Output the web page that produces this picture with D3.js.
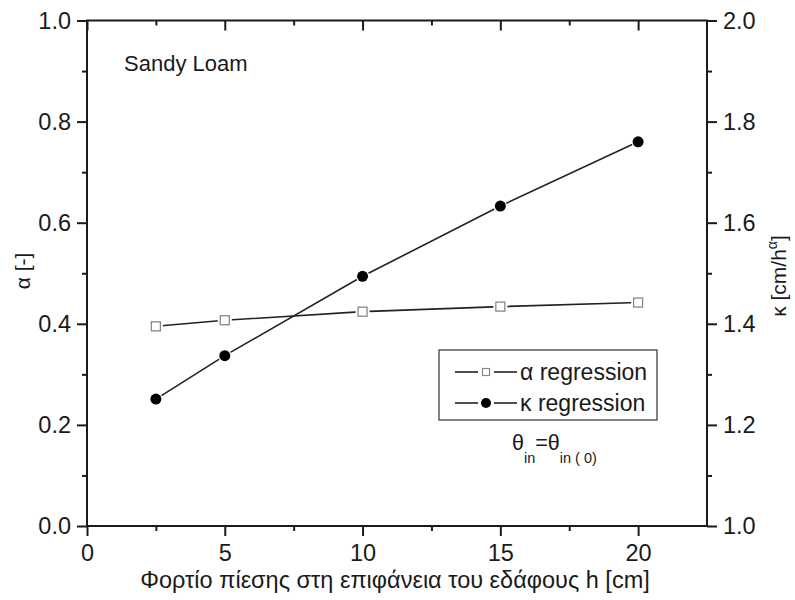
<!DOCTYPE html>
<html>
<head>
<meta charset="utf-8">
<script src="https://cdn.jsdelivr.net/npm/d3@7"></script>
<style>
  body { margin: 0; background: #fff; }
  svg text { font-family: "Liberation Sans", Arial, sans-serif; fill: #1a1a1a; }
</style>
</head>
<body>
<main></main>
<script>
// data
const hValues = [2.5, 5, 10, 15, 20]
const alphaValues = [0.395, 0.407, 0.424, 0.434, 0.442]
const kappaValues = [1.251, 1.337, 1.494, 1.633, 1.760]
const xTicks = [0, 5, 10, 15, 20]
const xMinor = [2.5, 7.5, 12.5, 17.5]
const leftTicks = [0, 0.2, 0.4, 0.6, 0.8, 1.0]
const leftMinor = [0.1, 0.3, 0.5, 0.7, 0.9]
const rightTicks = [1.0, 1.2, 1.4, 1.6, 1.8, 2.0]
const rightMinor = [1.1, 1.3, 1.5, 1.7, 1.9]

const W = 795
const H = 600
const m = { left: 87, right: 88, top: 20.5, bottom: 74 }

const svg = d3.select('main')
  .append('svg')
  .attr('width', W)
  .attr('height', H)

const x = d3.scaleLinear().domain([0, 22.5]).range([m.left, W - m.right])
const yL = d3.scaleLinear().domain([0, 1]).range([H - m.bottom, m.top])
const yR = d3.scaleLinear().domain([1, 2]).range([H - m.bottom, m.top])

const fmt = d3.format('.1f')
const axisColor = '#1a1a1a'
const tickFont = 23.5

function styleAxis (g) {
  g.selectAll('.domain').remove()
  g.selectAll('line').attr('stroke', axisColor).attr('stroke-width', 2)
  g.selectAll('text').style('font-size', tickFont + 'px').attr('fill', axisColor)
}

// bottom
svg.append('g')
  .attr('transform', 'translate(0,' + (H - m.bottom) + ')')
  .call(d3.axisBottom(x).tickValues(xTicks).tickSize(10).tickPadding(8))
  .call(styleAxis)
svg.append('g')
  .attr('transform', 'translate(0,' + (H - m.bottom) + ')')
  .call(d3.axisBottom(x).tickValues(xMinor).tickSize(5).tickFormat(''))
  .call(styleAxis)
// top, ticks pointing inward
svg.append('g')
  .attr('transform', 'translate(0,' + m.top + ')')
  .call(d3.axisBottom(x).tickValues(xTicks).tickSize(10).tickFormat(''))
  .call(styleAxis)
svg.append('g')
  .attr('transform', 'translate(0,' + m.top + ')')
  .call(d3.axisBottom(x).tickValues(xMinor).tickSize(5).tickFormat(''))
  .call(styleAxis)
// left
svg.append('g')
  .attr('transform', 'translate(' + m.left + ',0)')
  .call(d3.axisLeft(yL).tickValues(leftTicks).tickSize(10).tickPadding(6).tickFormat(fmt))
  .call(styleAxis)
svg.append('g')
  .attr('transform', 'translate(' + m.left + ',0)')
  .call(d3.axisLeft(yL).tickValues(leftMinor).tickSize(5).tickFormat(''))
  .call(styleAxis)
// right
svg.append('g')
  .attr('transform', 'translate(' + (W - m.right) + ',0)')
  .call(d3.axisRight(yR).tickValues(rightTicks).tickSize(10).tickPadding(6).tickFormat(fmt))
  .call(styleAxis)
svg.append('g')
  .attr('transform', 'translate(' + (W - m.right) + ',0)')
  .call(d3.axisRight(yR).tickValues(rightMinor).tickSize(5).tickFormat(''))
  .call(styleAxis)

// frame
svg.append('rect')
  .attr('x', m.left)
  .attr('y', m.top)
  .attr('width', W - m.left - m.right)
  .attr('height', H - m.top - m.bottom)
  .attr('fill', 'none')
  .attr('stroke', axisColor)
  .attr('stroke-width', 2)

// series
const alphaPts = hValues.map((h, i) => [x(h), yL(alphaValues[i])])
const kappaPts = hValues.map((h, i) => [x(h), yR(kappaValues[i])])

svg.append('path')
  .attr('d', d3.line()(alphaPts))
  .attr('fill', 'none')
  .attr('stroke', '#222')
  .attr('stroke-width', 1.6)
svg.append('path')
  .attr('d', d3.line()(kappaPts))
  .attr('fill', 'none')
  .attr('stroke', '#222')
  .attr('stroke-width', 1.6)

// square markers with small white gap
svg.selectAll('.sqgap')
  .data(alphaPts)
  .enter()
  .append('rect')
  .attr('x', d => d[0] - 7)
  .attr('y', d => d[1] - 7)
  .attr('width', 14)
  .attr('height', 14)
  .attr('fill', '#fff')
svg.selectAll('.sq')
  .data(alphaPts)
  .enter()
  .append('rect')
  .attr('x', d => d[0] - 4.5)
  .attr('y', d => d[1] - 4.5)
  .attr('width', 9)
  .attr('height', 9)
  .attr('fill', '#fff')
  .attr('stroke', '#888')
  .attr('stroke-width', 1.3)

svg.selectAll('.dot')
  .data(kappaPts)
  .enter()
  .append('circle')
  .attr('cx', d => d[0])
  .attr('cy', d => d[1])
  .attr('r', 5.5)
  .attr('fill', '#000')
  .attr('stroke', '#fff')
  .attr('stroke-width', 2.5)
  .attr('paint-order', 'stroke')

// Sandy Loam label
svg.append('text')
  .attr('x', 124)
  .attr('y', 71)
  .style('font-size', '22px')
  .text('Sandy Loam')

// legend
const lg = svg.append('g')
lg.append('rect')
  .attr('x', 439)
  .attr('y', 350)
  .attr('width', 218)
  .attr('height', 70)
  .attr('fill', '#fff')
  .attr('stroke', '#333')
  .attr('stroke-width', 1.2)
const rows = [
  { y: 372, label: 'α regression', sym: 'sq' },
  { y: 403, label: 'κ regression', sym: 'dot' }
]
rows.forEach(r => {
  lg.append('line').attr('x1', 455).attr('x2', 478).attr('y1', r.y).attr('y2', r.y)
    .attr('stroke', '#222').attr('stroke-width', 1.6)
  lg.append('line').attr('x1', 494).attr('x2', 517).attr('y1', r.y).attr('y2', r.y)
    .attr('stroke', '#222').attr('stroke-width', 1.6)
  if (r.sym === 'sq') {
    lg.append('rect').attr('x', 486 - 3.5).attr('y', r.y - 3.5).attr('width', 7).attr('height', 7)
      .attr('fill', '#fff').attr('stroke', '#888').attr('stroke-width', 1.2)
  } else {
    lg.append('circle').attr('cx', 486).attr('cy', r.y).attr('r', 5).attr('fill', '#000')
  }
  lg.append('text')
    .attr('x', 520)
    .attr('y', r.y)
    .attr('dy', '0.35em')
    .style('font-size', '23px')
    .text(r.label)
})

// theta annotation
const th = svg.append('text')
  .attr('x', 512)
  .attr('y', 450)
  .style('font-size', '21.5px')
th.append('tspan').text('θ')
th.append('tspan').attr('dy', 13).style('font-size', '14.5px').text('in')
th.append('tspan').attr('dy', -13).text('=θ')
th.append('tspan').attr('dy', 13).style('font-size', '14.5px').text('in ( 0)')

// axis titles
svg.append('text')
  .attr('x', 395)
  .attr('y', 588)
  .attr('text-anchor', 'middle')
  .style('font-size', '23.5px')
  .text('Φορτίο πίεσης στη επιφάνεια του εδάφους h [cm]')

svg.append('text')
  .attr('transform', 'translate(30,271) rotate(-90)')
  .attr('text-anchor', 'middle')
  .style('font-size', '21px')
  .text('α [-]')

const rt = svg.append('text')
  .attr('transform', 'translate(786,276) rotate(-90)')
  .attr('text-anchor', 'middle')
  .style('font-size', '21px')
rt.append('tspan').text('κ [cm/h')
rt.append('tspan').attr('dy', -9).style('font-size', '14px').text('α')
rt.append('tspan').attr('dy', 9).text(']')
</script>
</body>
</html>
